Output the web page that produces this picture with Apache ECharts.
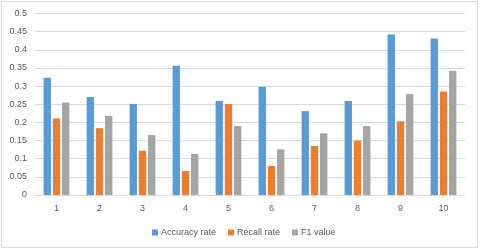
<!DOCTYPE html>
<html>
<head>
<meta charset="utf-8">
<script src="https://cdn.jsdelivr.net/npm/echarts@6/dist/echarts.min.js"></script>
<style>html,body{margin:0;padding:0;background:#fff}#c{width:480px;height:250px}</style>
</head>
<body>
<div id="c"></div>
<script>
var categories = ['1','2','3','4','5','6','7','8','9','10'];
var accuracyRate = [0.323,0.270,0.251,0.356,0.259,0.298,0.231,0.259,0.442,0.431];
var recallRate = [0.211,0.184,0.122,0.066,0.251,0.080,0.135,0.150,0.203,0.285];
var f1Value = [0.255,0.218,0.165,0.113,0.190,0.126,0.170,0.190,0.278,0.342];
var seriesNames = ['Accuracy rate','Recall rate','F1 value'];

var chart = echarts.init(document.getElementById('c'), null, {renderer:'canvas'});
var font = 'Liberation Sans';
function bar(name, data, color){
  return {name:name, type:'bar', data:data, itemStyle:{color:color},
    barGap:'25%', barCategoryGap:'40%'};
}
chart.setOption({
  animation:false,
  textStyle:{fontFamily:font},
  graphic:[{type:'rect', shape:{x:1.5,y:1.5,width:476,height:246}, style:{fill:'none',stroke:'#d9d9d9',lineWidth:1}, silent:true}],
  grid:{left:35, right:15, top:13.5, bottom:55, containLabel:false},
  legend:{left:147, top:223, itemWidth:6, itemHeight:6, itemGap:12, icon:'rect',
    textStyle:{fontFamily:font, fontSize:9, color:'#595959', padding:[0,0,0,-2]},
    data:seriesNames},
  xAxis:{type:'category', data:categories,
    axisLine:{lineStyle:{color:'#d9d9d9'}}, axisTick:{show:false},
    axisLabel:{color:'#595959', fontSize:9, fontFamily:font, margin:9}},
  yAxis:{type:'value', min:0, max:0.5, interval:0.05,
    axisLine:{show:false}, axisTick:{show:false},
    splitLine:{lineStyle:{color:'#d9d9d9'}},
    axisLabel:{color:'#595959', fontSize:9, fontFamily:font, margin:8,
      formatter:function(v){return String(parseFloat(v.toFixed(2)));}}},
  series:[bar(seriesNames[0], accuracyRate, '#5B9BD5'),
          bar(seriesNames[1], recallRate, '#ED7D31'),
          bar(seriesNames[2], f1Value, '#A5A5A5')]
});
</script>
</body>
</html>
